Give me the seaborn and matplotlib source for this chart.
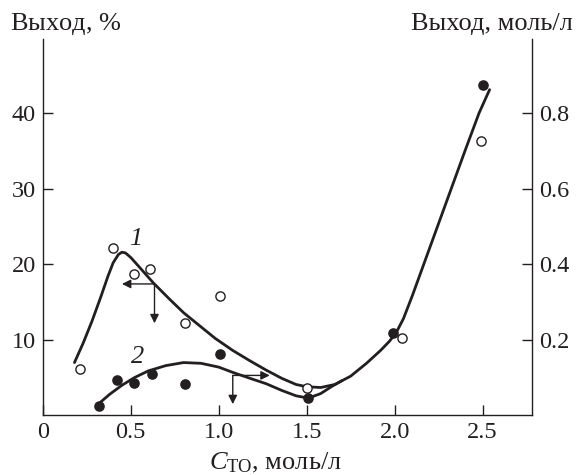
import matplotlib
matplotlib.use("Agg")
import matplotlib.pyplot as plt
import seaborn as sns
import pandas as pd

# ---- data ----
# series 1 (open circles), yield in %
x1 = [0.21, 0.40, 0.52, 0.61, 0.81, 1.01, 1.50, 2.04, 2.49]
y1 = [6.15, 22.2, 18.7, 19.4, 12.2, 15.8, 3.7, 10.2, 36.3]
# series 2 (filled circles), yield in mol/L
x2 = [0.32, 0.42, 0.52, 0.62, 0.81, 1.01, 1.51, 1.99, 2.50]
y2 = [0.026, 0.094, 0.086, 0.110, 0.082, 0.162, 0.047, 0.219, 0.874]

# fitted curve 1 (%)
cx1 = [0.18, 0.23, 0.28, 0.33, 0.37, 0.40, 0.43, 0.45, 0.47, 0.50, 0.55, 0.63,
       0.72, 0.80, 0.89, 0.98, 1.08, 1.18, 1.27, 1.36, 1.44, 1.50, 1.58, 1.66,
       1.75, 1.84, 1.92, 1.97, 2.01, 2.05, 2.10, 2.20, 2.30, 2.40, 2.48, 2.54]
cy1 = [7.0, 9.6, 12.5, 15.7, 18.4, 20.2, 21.3, 21.6, 21.5, 20.9, 19.6, 17.5,
       15.4, 13.6, 11.9, 10.2, 8.6, 7.2, 6.0, 4.9, 4.1, 3.8, 3.7, 4.1,
       5.2, 6.9, 8.6, 9.8, 11.0, 12.8, 15.8, 22.2, 28.6, 35.0, 40.0, 43.1]
# fitted curve 2 (mol/L)
cx2 = [0.32, 0.38, 0.45, 0.52, 0.60, 0.70, 0.80, 0.90, 1.00, 1.08, 1.18, 1.27,
       1.36, 1.44, 1.51, 1.58, 1.64, 1.70]
cy2 = [0.032, 0.056, 0.080, 0.100, 0.118, 0.132, 0.140, 0.138, 0.128, 0.114,
       0.098, 0.084, 0.066, 0.052, 0.046, 0.058, 0.076, 0.092]

xticks = [0, 0.5, 1.0, 1.5, 2.0, 2.5]
xticklabels = ["0", "0.5", "1.0", "1.5", "2.0", "2.5"]
yticks_left = [10, 20, 30, 40]
yticks_right = [0.2, 0.4, 0.6, 0.8]

# ---- style ----
sns.set_theme(style="ticks")
plt.rcParams["font.family"] = ["Liberation Serif", "DejaVu Serif"]
plt.rcParams["mathtext.fontset"] = "custom"
plt.rcParams["mathtext.rm"] = "Liberation Serif"
plt.rcParams["mathtext.it"] = "Liberation Serif:italic"
plt.rcParams["axes.linewidth"] = 1.0
plt.rcParams["axes.edgecolor"] = "#231f20"

FS = 17.5
LFS = 19
INK = "#231f20"
fig = plt.figure(figsize=(5.76, 4.75), dpi=100)
ax = fig.add_axes([0.0743, 0.1253, 0.8490, 0.7926])
ax2 = ax.twinx()

XMAX = 2.78
YMAX = 49.8
ax.set_xlim(0, XMAX)
ax.set_ylim(0, YMAX)
ax2.set_ylim(0, YMAX / 50.0)

df1 = pd.DataFrame({"x": x1, "y": y1})
df2 = pd.DataFrame({"x": x2, "y": y2})
dc1 = pd.DataFrame({"x": cx1, "y": cy1})
dc2 = pd.DataFrame({"x": cx2, "y": cy2})

sns.lineplot(data=dc1, x="x", y="y", ax=ax, color=INK, lw=2.0,
             sort=False, estimator=None)
sns.lineplot(data=dc2, x="x", y="y", ax=ax2, color=INK, lw=2.0,
             sort=False, estimator=None)
sns.scatterplot(data=df1, x="x", y="y", ax=ax, marker="o", s=44,
                facecolor="white", edgecolor=INK, linewidth=1.0, zorder=5)
sns.scatterplot(data=df2, x="x", y="y", ax=ax2, marker="o", s=44,
                color=INK, edgecolor=INK, linewidth=1.0, zorder=5)

for a in (ax, ax2):
    a.set_xlabel("")
    a.set_ylabel("")
    a.spines["top"].set_visible(False)

ax.spines["right"].set_visible(False)
ax2.spines["left"].set_visible(False)
ax2.spines["bottom"].set_visible(False)

ax.set_xticks(xticks)
ax.set_xticklabels(xticklabels)
ax.set_yticks(yticks_left)
ax.set_yticklabels([str(v) for v in yticks_left])
ax2.set_yticks(yticks_right)
ax2.set_yticklabels([f"{v:.1f}" for v in yticks_right])

ax.tick_params(axis="both", direction="in", length=7, width=1.0,
               labelsize=FS, colors=INK, pad=5)
ax2.tick_params(axis="y", direction="in", length=7, width=1.0,
                labelsize=FS, colors=INK, pad=5)

ax.set_xlabel(r"$C_{\mathrm{TO}}$, моль/л", fontsize=LFS, color=INK)
ax.xaxis.set_label_coords(0.475, -0.095)

# arrows
aprops = dict(arrowstyle="-|>", color=INK, lw=1.0,
              mutation_scale=13, shrinkA=0, shrinkB=0)
ax.annotate("", xy=(0.45, 17.4), xytext=(0.635, 17.4), arrowprops=aprops)
ax.annotate("", xy=(0.635, 12.2), xytext=(0.635, 17.4), arrowprops=aprops)
ax2.annotate("", xy=(1.29, 0.106), xytext=(1.08, 0.106), arrowprops=aprops)
ax2.annotate("", xy=(1.08, 0.030), xytext=(1.08, 0.106), arrowprops=aprops)

ax.text(0.53, 23.4, "1", fontsize=LFS, style="italic", ha="center",
        va="center", color=INK)
ax.text(0.54, 7.8, "2", fontsize=LFS, style="italic", ha="center",
        va="center", color=INK)

fig.text(0.017, 1 - 30 / 475, r"Выход, $\mathit{\%}$", fontsize=LFS,
         ha="left", va="baseline", color=INK)
fig.text(0.995, 1 - 30 / 475, "Выход, моль/л", fontsize=LFS, ha="right",
         va="baseline", color=INK)

fig.savefig("out.png", dpi=100)
